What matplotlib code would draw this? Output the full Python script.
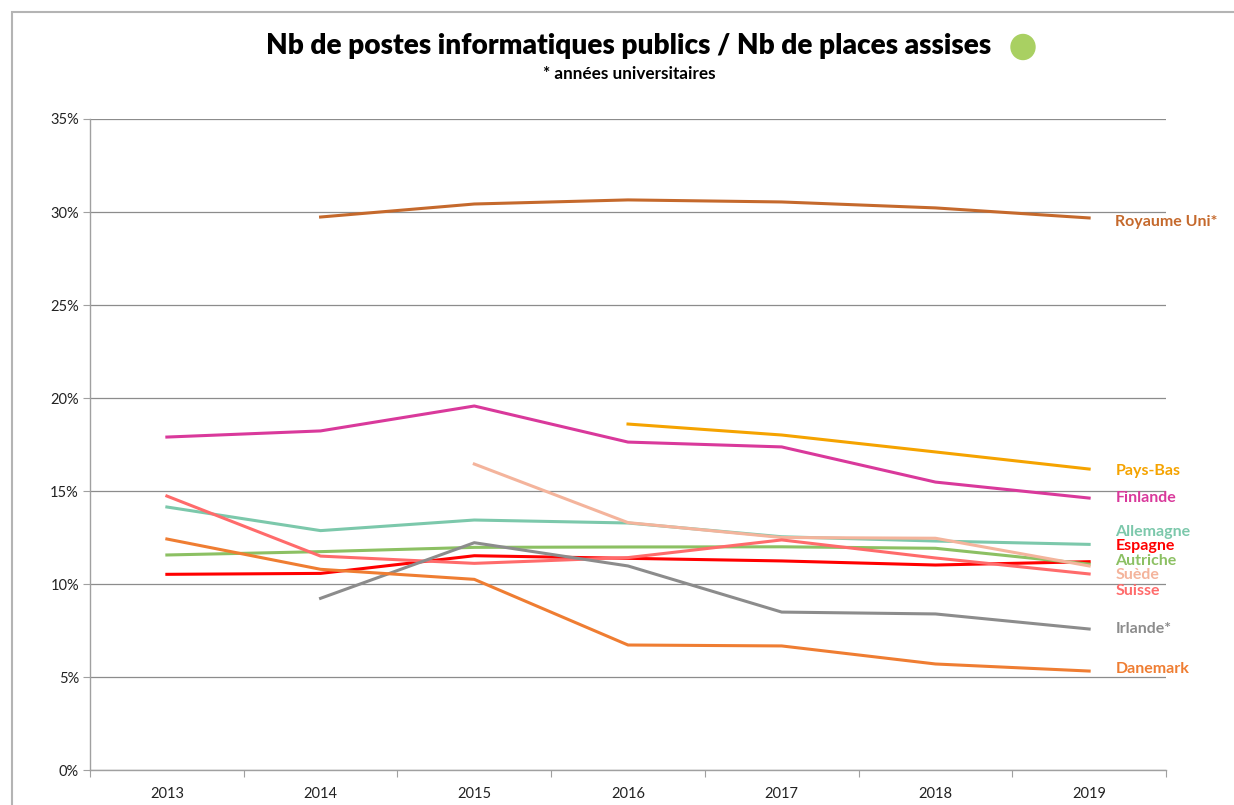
import numpy as np
import matplotlib.pyplot as plt
from matplotlib.patches import Ellipse, Rectangle

plt.rcParams['font.family'] = ['Lato', 'DejaVu Sans']

annees = ['2013', '2014', '2015', '2016', '2017', '2018', '2019']

# valeurs en % (None = pas de donnée)
royaume_uni = [None, 29.73, 30.43, 30.65, 30.54, 30.22, 29.68]
pays_bas = [None, None, None, 18.60, 18.01, 17.10, 16.18]
finlande = [17.90, 18.23, 19.57, 17.63, 17.37, 15.48, 14.62]
allemagne = [14.14, 12.87, 13.44, 13.28, 12.54, 12.31, 12.13]
espagne = [10.52, 10.57, 11.52, 11.38, 11.24, 11.02, 11.20]
autriche = [11.56, 11.74, 11.97, 11.99, 12.00, 11.92, 11.07]
suede = [None, None, 16.45, 13.30, 12.50, 12.46, 10.97]
suisse = [14.73, 11.50, 11.11, 11.42, 12.37, 11.40, 10.54]
irlande = [None, 9.23, 12.22, 10.97, 8.49, 8.39, 7.58]
danemark = [12.42, 10.79, 10.25, 6.72, 6.67, 5.70, 5.32]

series = [
    ('Royaume Uni*', royaume_uni, '#c5692c', 29.45),
    ('Pays-Bas', pays_bas, '#f5a300', 16.1),
    ('Finlande', finlande, '#d9399b', 14.6),
    ('Allemagne', allemagne, '#7cc8ab', 12.78),
    ('Espagne', espagne, '#ff0000', 12.02),
    ('Autriche', autriche, '#8cc063', 11.22),
    ('Suède', suede, '#f4b49c', 10.47),
    ('Suisse', suisse, '#ff6b6b', 9.6),
    ('Irlande*', irlande, '#8c8c8c', 7.57),
    ('Danemark', danemark, '#ef7d32', 5.42),
]

fig = plt.figure(figsize=(12.34, 8.05), dpi=100)
ax = fig.add_axes([90 / 1234, 1 - 770 / 805, (1166 - 90) / 1234, (770 - 119) / 805])

x = np.arange(len(annees))
for nom, vals, couleur, y_lab in series:
    v = np.array([np.nan if a is None else a for a in vals], dtype=float)
    ax.plot(x, v / 100, color=couleur, lw=2.2, solid_joinstyle='round')
    ax.text(6.17, y_lab / 100, nom, color=couleur, fontsize=11.5, fontweight='bold',
            va='center', ha='left', clip_on=False)

ax.set_xlim(-0.5, 6.5)
ax.set_ylim(0, 0.35)
ax.set_yticks(np.arange(0, 0.351, 0.05))
ax.set_yticklabels([f'{int(round(t * 100))}%' for t in np.arange(0, 0.351, 0.05)])
ax.set_xticks(np.arange(-0.5, 6.6, 1))
ax.set_xticklabels([])
ax.set_xticks(x, minor=True)
ax.set_xticklabels(annees, minor=True)
ax.tick_params(axis='x', which='major', length=5, color='#a0a0a0', direction='out')
ax.tick_params(axis='x', which='minor', length=0, pad=12, labelsize=10.5, labelcolor='#222222')
ax.tick_params(axis='y', length=5, color='#a0a0a0', labelsize=10.5, labelcolor='#222222', pad=3)
ax.grid(axis='y', color='#8c8c8c', lw=0.9)
ax.set_axisbelow(True)
for s in ['top', 'right']:
    ax.spines[s].set_visible(False)
for s in ['left', 'bottom']:
    ax.spines[s].set_color('#a0a0a0')
    ax.spines[s].set_linewidth(1.0)

fig.text(629 / 1234, 1 - 46 / 805, 'Nb de postes informatiques publics / Nb de places assises',
         ha='center', va='center', fontsize=20.2, fontweight='heavy')
fig.text(629 / 1234, 1 - 74 / 805, '* années universitaires',
         ha='center', va='center', fontsize=12.3, fontweight='bold')
fig.patches.append(Ellipse((1023 / 1234, 1 - 47 / 805), 24 / 1234, 25 / 805,
                           transform=fig.transFigure, color='#a9d062'))
fig.patches.append(Rectangle((12 / 1234, -0.1), 1.2, 1 - 12 / 805 + 0.1, transform=fig.transFigure,
                             fill=False, edgecolor='#b4b4b4', lw=1.5))

fig.savefig('out.png', dpi=100)
